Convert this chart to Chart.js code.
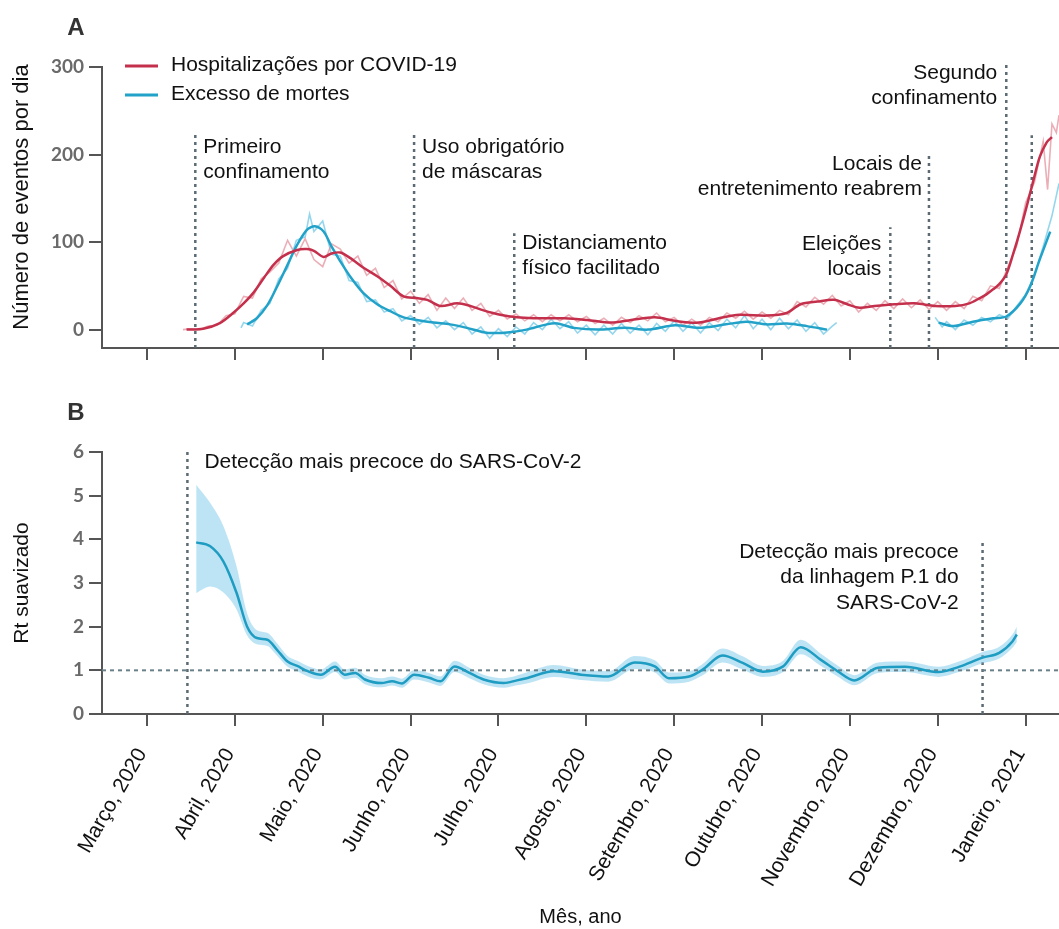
<!DOCTYPE html>
<html lang="pt">
<head>
<meta charset="utf-8">
<title>Hospitalizações, excesso de mortes e Rt</title>
<script src="https://cdn.jsdelivr.net/npm/chart.js@4.4.1/dist/chart.umd.min.js"></script>
<style>
  body { margin: 0; background: #fff; }
  #figura { position: relative; width: 1059px; height: 929px; }
  #graficoA { position: absolute; left: 0; top: 0; }
  #graficoB { position: absolute; left: 0; top: 380px; }
</style>
</head>
<body>
<div id="figura">
  <canvas id="graficoA" width="1059" height="380"></canvas>
  <canvas id="graficoB" width="1059" height="549"></canvas>
</div>
<script>
// Eixo x em meses: 0 = início de março de 2020 ... 10 = início de janeiro de 2021
const meses = ["Março, 2020", "Abril, 2020", "Maio, 2020", "Junho, 2020", "Julho, 2020", "Agosto, 2020",
  "Setembro, 2020", "Outubro, 2020", "Novembro, 2020", "Dezembro, 2020", "Janeiro, 2021"];
const ticksA = [0, 100, 200, 300];
const ticksB = [0, 1, 2, 3, 4, 5, 6];

// Painel A: médias móveis [mês, eventos por dia]
const hospitalizacoes = [[0.45,0],[0.64,1],[0.83,7.5],[0.98,19],[1.10,30],[1.21,42],[1.33,59],[1.44,74],[1.55,84],
  [1.71,91],[1.82,92],[1.90,90],[2.01,83],[2.10,87],[2.20,88],[2.31,82],[2.46,71],[2.62,61],[2.77,50],[2.92,38],
  [3.07,36],[3.19,34],[3.34,27],[3.53,30],[3.68,27],[3.83,22],[4.02,17],[4.21,14],[4.40,13],[4.75,13],[5.01,11],
  [5.28,8],[5.51,11],[5.78,14],[6.01,10],[6.28,8],[6.51,13],[6.74,17],[7.05,16],[7.28,19],[7.44,29],[7.63,32],
  [7.82,34],[7.97,29],[8.11,25],[8.28,27],[8.51,29],[8.74,30],[8.97,27],[9.20,27],[9.36,30],[9.48,36],[9.55,40],
  [9.63,46],[9.70,52],[9.78,63],[9.86,87],[9.94,114],[10.01,140],[10.09,171],[10.16,197],[10.24,214],[10.30,220]];
const excessoMortes = [[1.14,6],[1.25,13],[1.37,28],[1.48,49],[1.59,72],[1.71,97],[1.82,114],[1.91,118],[2.01,112],
  [2.10,95],[2.20,78],[2.31,61],[2.46,42],[2.62,29],[2.77,21],[2.92,14],[3.07,11],[3.26,8],[3.45,6],[3.64,2],
  [3.83,-3],[3.94,-4],[4.13,-3],[4.32,0],[4.55,6],[4.67,7],[4.86,2],[5.13,0],[5.44,2],[5.70,0],[6.01,5],[6.28,2],
  [6.59,6],[6.82,9],[7.05,6],[7.28,7],[7.51,4],[7.74,0],[8.4,null],[9.01,8],[9.18,4],[9.40,9],[9.63,13],[9.78,15],
  [9.94,30],[10.05,49],[10.16,80],[10.28,112]];

// Painel A: valores diários (traço claro)
const hospDiario = [[0.41,0],[0.5,1],[0.6,0],[0.7,4],[0.8,5],[0.9,16],[1.0,18],[1.1,38],[1.2,36],[1.3,58],[1.4,66],
  [1.5,76],[1.6,102],[1.7,84],[1.8,104],[1.9,80],[2.0,72],[2.1,98],[2.2,92],[2.3,76],[2.4,84],[2.5,62],[2.6,70],
  [2.7,48],[2.8,56],[2.9,35],[3.0,44],[3.1,30],[3.2,40],[3.3,22],[3.4,36],[3.5,24],[3.6,36],[3.7,22],[3.8,30],
  [3.9,15],[4.0,22],[4.1,12],[4.2,18],[4.3,10],[4.4,17],[4.5,9],[4.6,17],[4.7,10],[4.8,17],[4.9,9],[5.0,15],[5.1,7],
  [5.2,13],[5.3,5],[5.4,14],[5.5,8],[5.6,16],[5.7,10],[5.8,19],[5.9,9],[6.0,14],[6.1,5],[6.2,12],[6.3,5],[6.4,14],
  [6.5,9],[6.6,19],[6.7,13],[6.8,21],[6.9,12],[7.0,20],[7.1,13],[7.2,22],[7.3,17],[7.4,32],[7.5,26],[7.6,37],
  [7.7,29],[7.8,39],[7.9,27],[8.0,33],[8.1,20],[8.2,30],[8.3,22],[8.4,33],[8.5,24],[8.6,35],[8.7,25],[8.8,34],
  [8.9,23],[9.0,32],[9.1,22],[9.2,32],[9.3,24],[9.4,38],[9.5,33],[9.6,50],[9.7,47],[9.8,72],[9.9,96],[10.0,145],
  [10.1,168],[10.2,215],[10.25,160],[10.3,235],[10.35,225],[10.38,245]];
const mortesDiario = [[1.07,2],[1.1,8],[1.2,4],[1.3,22],[1.4,30],[1.5,58],[1.6,70],[1.7,102],[1.8,106],[1.85,132],
  [1.9,112],[2.0,124],[2.1,86],[2.2,84],[2.3,56],[2.4,54],[2.5,32],[2.6,34],[2.7,20],[2.8,24],[2.9,10],[3.0,16],
  [3.1,6],[3.2,14],[3.3,2],[3.4,10],[3.5,0],[3.6,8],[3.7,-5],[3.8,3],[3.9,-10],[4.0,1],[4.1,-8],[4.2,3],[4.3,-5],
  [4.4,8],[4.5,0],[4.6,12],[4.7,1],[4.8,9],[4.9,-4],[5.0,5],[5.1,-6],[5.2,5],[5.3,-5],[5.4,7],[5.5,-4],[5.6,5],
  [5.7,-6],[5.8,7],[5.9,-2],[6.0,10],[6.1,-2],[6.2,8],[6.3,-4],[6.4,8],[6.5,-1],[6.6,12],[6.7,2],[6.8,16],[6.9,1],
  [7.0,12],[7.1,0],[7.2,13],[7.3,1],[7.4,11],[7.5,-2],[7.6,8],[7.7,-5],[7.8,4],[7.85,8],[8.4,null],[8.97,14],
  [9.05,3],[9.1,9],[9.2,0],[9.3,11],[9.4,5],[9.5,14],[9.6,9],[9.7,17],[9.8,13],[9.9,27],[10.0,40],[10.1,62],
  [10.2,95],[10.3,130],[10.38,167]];

// Painel B: Rt suavizado e intervalo
const rtX = [0.56,0.72,0.87,1.02,1.14,1.25,1.37,1.48,1.60,1.71,1.83,1.98,2.14,2.25,2.37,2.48,2.67,2.79,2.90,3.04,
  3.21,3.34,3.50,3.67,3.83,4.06,4.21,4.32,4.63,4.94,5.25,5.55,5.78,5.94,6.17,6.32,6.55,6.78,7.01,7.24,7.44,7.67,
  7.86,8.05,8.32,8.63,9.01,9.24,9.51,9.70,9.85,9.90];
const rt = [3.93,3.84,3.49,2.77,2.00,1.74,1.70,1.47,1.20,1.10,0.98,0.90,1.08,0.90,0.94,0.79,0.71,0.75,0.70,0.90,
  0.83,0.75,1.09,0.94,0.79,0.71,0.77,0.82,0.98,0.90,0.86,1.18,1.09,0.82,0.86,1.01,1.34,1.17,0.97,1.09,1.53,1.24,
  0.98,0.77,1.06,1.08,0.96,1.08,1.29,1.40,1.66,1.82];
const rtInf = [2.77,2.92,2.78,2.39,1.80,1.60,1.56,1.34,1.08,0.98,0.86,0.79,0.96,0.79,0.83,0.68,0.61,0.65,0.60,0.79,
  0.72,0.64,0.96,0.82,0.68,0.60,0.66,0.70,0.85,0.78,0.74,1.03,0.95,0.70,0.74,0.88,1.18,1.02,0.85,0.96,1.37,1.10,
  0.86,0.66,0.94,0.96,0.85,0.96,1.16,1.27,1.52,1.65];
const rtSup = [5.25,4.83,4.30,3.38,2.30,1.92,1.86,1.62,1.33,1.22,1.10,1.02,1.20,1.02,1.06,0.90,0.82,0.86,0.81,1.01,
  0.94,0.86,1.22,1.06,0.90,0.82,0.88,0.95,1.12,1.02,0.98,1.33,1.23,0.95,0.98,1.14,1.50,1.32,1.10,1.22,1.70,1.38,
  1.11,0.89,1.18,1.20,1.08,1.20,1.42,1.54,1.82,2.00];
const rtReferencia = 1;

// Eventos (mês) e altura do traço vertical
const eventosA = ["Primeiro\nconfinamento", "Uso obrigatório\nde máscaras", "Distanciamento\nfísico facilitado",
  "Eleições\nlocais", "Locais de\nentretenimento reabrem", "Segundo\nconfinamento", ""];
const eventosAData = [0.55, 3.04, 4.18, 8.46, 8.90, 9.78, 10.07];
const eventosATopo = [224, 224, 110, 117, 201, 305, 222];
const eventosB = ["Detecção mais precoce do SARS-CoV-2", "Detecção mais precoce\nda linhagem P.1 do\nSARS-CoV-2"];
const eventosBData = [0.46, 9.51];
const eventosBTopo = [6, 4];

const xMin = -0.512;
const xMax = 10.38;
const corHosp = "#c4304c";
const corMortes = "#22a2c8";
const corEixo = "#555555";
const corEvento = "#5c6b73";
const fonteTexto = '"Liberation Sans", Arial, sans-serif';

const pontos = pares => pares.map(([x, y]) => ({ x, y }));

// Posição dos textos de cada evento (deslocamento em px a partir do traço, centro da 1a linha)
const posicoesA = [
  { dx: 8, y: 147 }, { dx: 8, y: 147 }, { dx: 8, y: 243 },
  { dx: -9, y: 244 }, { dx: -7, y: 164 }, { dx: -9, y: 73 }, null
];
const posicoesB = [{ dx: 17, y: 82 }, { dx: -24, y: 172 }];

const textosPlugin = {
  id: "textos",
  afterDraw(chart, args, cfg) {
    const ctx = chart.ctx;
    const xScale = chart.scales.x;
    ctx.save();
    ctx.fillStyle = "#111";
    ctx.textBaseline = "middle";
    ctx.font = "21px " + fonteTexto;
    cfg.eventos.forEach((texto, i) => {
      const pos = cfg.posicoes[i];
      if (!texto || !pos) return;
      const x = xScale.getPixelForValue(cfg.datas[i]) + pos.dx;
      ctx.textAlign = pos.dx > 0 ? "left" : "right";
      texto.split("\n").forEach((linha, j) => ctx.fillText(linha, x, pos.y + j * 25.5));
    });

    if (cfg.legenda) {
      chart.data.datasets.slice(0, 2).forEach((ds, i) => {
        const y = 66 + i * 29;
        ctx.strokeStyle = ds.borderColor;
        ctx.lineWidth = 3;
        ctx.beginPath();
        ctx.moveTo(125, y);
        ctx.lineTo(158, y);
        ctx.stroke();
        ctx.textAlign = "left";
        ctx.fillText(ds.label, 171, y - 1);
      });
    }

    // letra do painel
    ctx.font = "bold 24px " + fonteTexto;
    ctx.fillStyle = "#333";
    ctx.textAlign = "center";
    ctx.fillText(cfg.letra, 76, cfg.letraY);

    // título do eixo y
    ctx.font = cfg.tituloFonte + "px " + fonteTexto;
    ctx.fillStyle = "#111";
    ctx.translate(22, cfg.tituloY);
    ctx.rotate(-Math.PI / 2);
    ctx.fillText(cfg.titulo, 0, 0);
    ctx.restore();
  }
};

const eixoX = (altura, comRotulos) => ({
  type: "linear",
  min: xMin,
  max: xMax,
  afterBuildTicks: s => { s.ticks = meses.map((_, i) => ({ value: i })); },
  afterFit: s => {
    s.height = altura;
    s.paddingLeft = 0;
    s.paddingRight = 0;
  },
  ticks: {
    display: comRotulos,
    autoSkip: false,
    minRotation: 60,
    maxRotation: 60,
    padding: 18,
    labelOffset: -5,
    color: "#111",
    font: { family: fonteTexto, size: 21 },
    callback: v => meses[v]
  },
  grid: { drawOnChartArea: false, tickLength: 12, color: corEixo, lineWidth: 2 },
  border: { color: corEixo, width: 2 },
  title: {
    display: comRotulos,
    text: "Mês, ano",
    color: "#111",
    font: { family: fonteTexto, size: 20 },
    padding: { top: 0, bottom: 0 }
  }
});

const eixoY = (min, max, valores) => ({
  min,
  max,
  afterBuildTicks: s => { s.ticks = valores.map(v => ({ value: v })); },
  afterFit: s => { s.width = 102; },
  ticks: { color: "#6a6a6a", padding: 5, font: { family: "Lato", size: 19, weight: "bold" } },
  grid: { drawOnChartArea: false, tickLength: 13, color: corEixo, lineWidth: 2 },
  border: { color: corEixo, width: 2 }
});

const linhaEvento = (x, base, topo) => ({
  data: [{ x, y: base }, { x, y: topo }],
  borderColor: corEvento,
  borderWidth: 2.5,
  borderDash: [3, 4],
  pointRadius: 0,
  clip: false,
  order: 4
});

// Painel A
new Chart(document.getElementById("graficoA"), {
  type: "line",
  data: {
    datasets: [
      { label: "Hospitalizações por COVID-19", data: pontos(hospitalizacoes), borderColor: corHosp,
        borderWidth: 2.5, pointRadius: 0, tension: 0.3, order: 1 },
      { label: "Excesso de mortes", data: pontos(excessoMortes), borderColor: corMortes,
        borderWidth: 2.5, pointRadius: 0, tension: 0.3, order: 1 },
      { label: "diário hosp", data: pontos(hospDiario), borderColor: "rgba(222,120,134,0.6)",
        borderWidth: 1.6, pointRadius: 0, tension: 0, order: 2 },
      { label: "diário mortes", data: pontos(mortesDiario), borderColor: "rgba(105,196,230,0.7)",
        borderWidth: 1.6, pointRadius: 0, tension: 0, order: 2 },
      ...eventosAData.map((x, i) => linhaEvento(x, -21, eventosATopo[i]))
    ]
  },
  options: {
    responsive: false,
    animation: false,
    layout: { padding: { top: 67, left: 0, right: 0, bottom: 0 }, autoPadding: false },
    plugins: {
      legend: { display: false },
      tooltip: { enabled: false },
      textos: {
        eventos: eventosA, datas: eventosAData, posicoes: posicoesA, legenda: true,
        letra: "A", letraY: 28, titulo: "Número de eventos por dia", tituloY: 197, tituloFonte: 22
      }
    },
    scales: {
      x: eixoX(380 - 348, false),
      y: eixoY(-21, 300, ticksA)
    }
  },
  plugins: [textosPlugin]
});

// Painel B
new Chart(document.getElementById("graficoB"), {
  type: "line",
  data: {
    datasets: [
      { label: "Rt suavizado", data: rtX.map((x, i) => ({ x, y: rt[i] })), borderColor: "#1e9cc2",
        borderWidth: 2.5, pointRadius: 0, cubicInterpolationMode: "monotone", order: 1 },
      { label: "inferior", data: rtX.map((x, i) => ({ x, y: rtInf[i] })), borderWidth: 0,
        borderColor: "rgba(0,0,0,0)", pointRadius: 0, cubicInterpolationMode: "monotone", fill: false, order: 3 },
      { label: "superior", data: rtX.map((x, i) => ({ x, y: rtSup[i] })), borderWidth: 0,
        borderColor: "rgba(0,0,0,0)", backgroundColor: "rgba(135,206,235,0.55)", pointRadius: 0,
        cubicInterpolationMode: "monotone", fill: "-1", order: 3 },
      { label: "Rt = 1", data: [{ x: xMin, y: rtReferencia }, { x: xMax, y: rtReferencia }],
        borderColor: "#6a8088", borderWidth: 2, borderDash: [4, 4], pointRadius: 0, order: 2 },
      ...eventosBData.map((x, i) => linhaEvento(x, 0, eventosBTopo[i]))
    ]
  },
  options: {
    responsive: false,
    animation: false,
    layout: { padding: { top: 72, left: 0, right: 0, bottom: 0 }, autoPadding: false },
    plugins: {
      legend: { display: false },
      tooltip: { enabled: false },
      textos: {
        eventos: eventosB, datas: eventosBData, posicoes: posicoesB, legenda: false,
        letra: "B", letraY: 33, titulo: "Rt suavizado", tituloY: 203, tituloFonte: 21
      }
    },
    scales: {
      x: eixoX(549 - 334, true),
      y: eixoY(0, 6, ticksB)
    }
  },
  plugins: [textosPlugin]
});
</script>
</body>
</html>
